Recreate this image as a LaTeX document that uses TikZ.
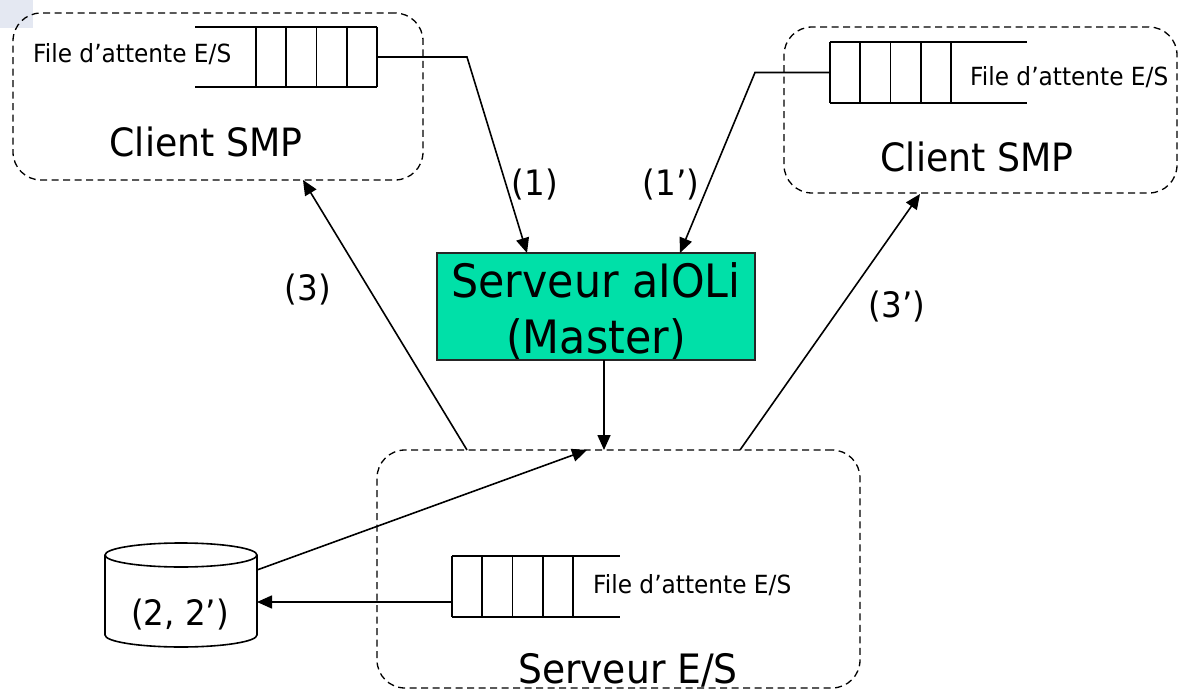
\documentclass[tikz,border=0pt]{standalone}
\usepackage{fontspec}
\setmainfont{DejaVu Sans}[FakeStretch=0.93]
\usetikzlibrary{arrows.meta}
\definecolor{aioli}{RGB}{0,224,168}
\definecolor{corner}{RGB}{228,232,242}
\tikzset{
  groupbox/.style={draw, line width=1.3pt, dash pattern=on 7pt off 4.5pt, rounded corners=28pt, inner sep=0pt},
  qline/.style={line width=1.7pt},
  arr/.style={line width=1.6pt, -{Triangle[length=15pt,width=13pt]}},
  small/.style={font=\fontsize{25}{30}\selectfont, inner sep=0pt},
  big/.style={font=\fontsize{39}{46}\selectfont, inner sep=0pt},
  lbl/.style={font=\fontsize{35}{42}\selectfont, inner sep=0pt},
}
\newcommand{\queuecells}[3]{% left x, top y, bottom y
  \foreach \k in {0,...,4} \draw[qline] (#1+30.25*\k,#2) -- (#1+30.25*\k,#3);
}
\begin{document}
\begin{tikzpicture}[x=1pt,y=-1pt]
\useasboundingbox (0,0) rectangle (1179,693);
\fill[corner] (0,0) rectangle (33,28);

% dashed groups
\node[groupbox, minimum width=410pt, minimum height=167pt] (clientA) at (218,96.5) {};
\node[groupbox, minimum width=393pt, minimum height=166pt] (clientB) at (980.5,110) {};
\node[groupbox, minimum width=483pt, minimum height=238pt] (srv) at (618.5,569) {};

\node[big, anchor=base] (clientAname) at (206,157) {Client SMP};
\node[big, anchor=base] (clientBname) at (977,171) {Client SMP};
\node[font=\fontsize{40.5}{48}\selectfont, inner sep=0pt, anchor=base] (srvname) at (628,683) {Serveur E/S};

% queue of the left client
\node[minimum width=121pt, minimum height=60pt, inner sep=0pt] (qA) at (316.5,57) {};
\draw[qline] (195,27) -- (377,27) (195,87) -- (377,87);
\queuecells{256}{27}{87}
\node[small, anchor=base west] (qAtext) at (33,63) {File d’attente E/S};

% queue of the right client
\node[minimum width=122pt, minimum height=61pt, inner sep=0pt] (qB) at (891,72.5) {};
\draw[qline] (830,42) -- (1027,42) (830,103) -- (1027,103);
\queuecells{830}{42}{103}
\node[small, anchor=base west] (qBtext) at (970,85) {File d’attente E/S};

% queue of the I/O server
\node[minimum width=121pt, minimum height=61pt, inner sep=0pt] (qS) at (512.5,586.5) {};
\draw[qline] (452,556) -- (620,556) (452,617) -- (620,617);
\queuecells{452}{556}{617}
\node[small, anchor=base west] (qStext) at (593,593) {File d’attente E/S};

% master server
\node[draw=black!85, line width=1.6pt, fill=aioli, minimum width=318pt, minimum height=107pt, inner sep=0pt] (master) at (596,306.5) {};
\node[font=\fontsize{46}{56}\selectfont, inner sep=0pt, anchor=base] (mline1) at (596,297) {Serveur aIOLi};
\node[font=\fontsize{46}{56}\selectfont, inner sep=0pt, anchor=base] (mline2) at (596,353) {(Master)};

% disk
\draw[line width=1.6pt] (105,555) -- (105,635) arc[start angle=180, end angle=360, x radius=76pt, y radius=12pt] -- (257,555);
\draw[line width=1.6pt] (181,555) ellipse[x radius=76pt, y radius=12pt];
\node[lbl, anchor=base] (disk) at (180,625) {(2, 2’)};

% connector end points
\coordinate (bendA) at (467,57);
\coordinate (inA) at (527,253);
\coordinate (bendB) at (755,72.5);
\coordinate (inB) at (680,253);
\coordinate (mOut) at (604,360);
\coordinate (sIn) at (604,450);
\coordinate (sOutA) at (467,450);
\coordinate (cAin) at (303,180);
\coordinate (sOutB) at (740,450);
\coordinate (cBin) at (920,194);
\coordinate (dOut) at (257,570);
\coordinate (sIn2) at (587,450);
\coordinate (qSout) at (452,602);
\coordinate (dIn) at (257,602);

\draw[arr] (qA.east) -- (bendA) -- (inA);
\draw[arr] (qB.west) -- (bendB) -- (inB);
\draw[arr] (mOut) -- (sIn);
\draw[arr] (sOutA) -- (cAin);
\draw[arr] (sOutB) -- (cBin);
\draw[arr] (dOut) -- (sIn2);
\draw[arr] (qSout) -- (dIn);

% step labels
\node[lbl, anchor=base] (l1) at (535,195) {(1)};
\node[lbl, anchor=base] (l1p) at (671,195) {(1’)};
\node[lbl, anchor=base] (l3) at (308,300) {(3)};
\node[lbl, anchor=base] (l3p) at (897,317) {(3’)};
\end{tikzpicture}
\end{document}
